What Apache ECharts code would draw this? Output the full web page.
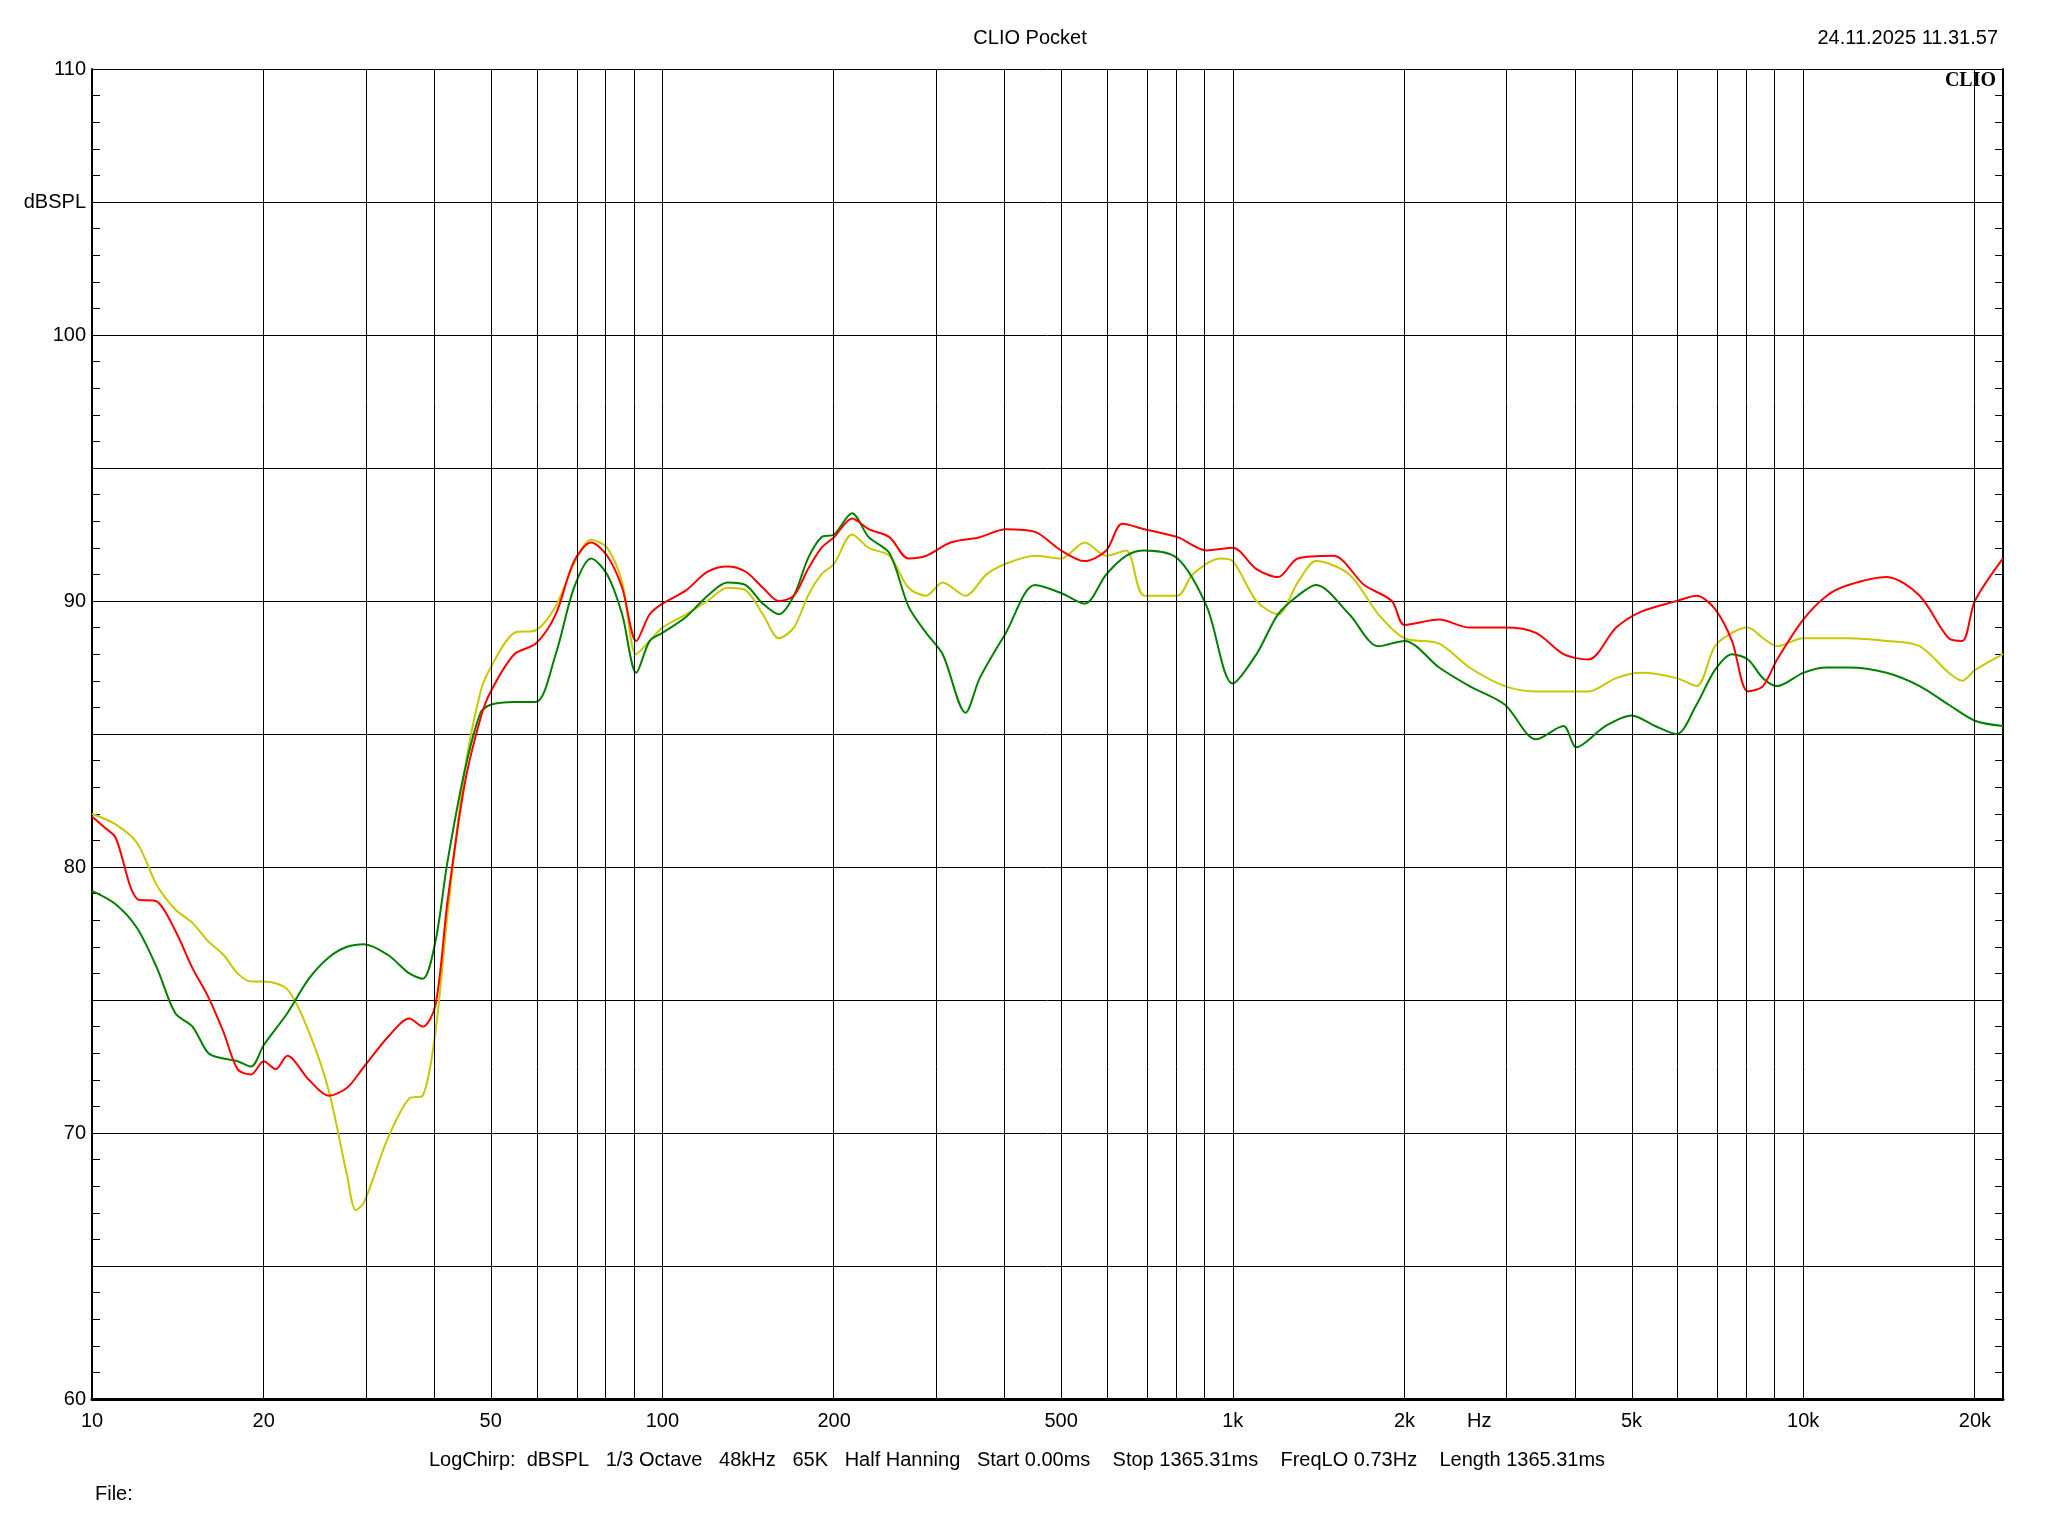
<!DOCTYPE html>
<html lang="en" style="height: 100%">
<head>
<meta charset="UTF-8">
<title>CLIO Pocket</title>
<script src="https://cdn.jsdelivr.net/npm/echarts@6/dist/echarts.min.js"></script>
</head>
<body style="height: 100%; margin: 0; background: #fff">
<div id="container" style="width: 2048px; height: 1536px"></div>
<script>
// frequency (Hz) / level (dBSPL) pairs
var redData = [[10,81.9],[10.5,81.5],[11,81.1],[12,78.8],[13,78.7],[14,77.6],[15,76.2],[16,75.1],[17,73.8],[18,72.4],[19,72.2],[20,72.7],[21,72.4],[22,72.9],[24,72.0],[26,71.4],[28,71.7],[30,72.5],[33,73.6],[36,74.3],[38,74.0],[40,74.8],[42,78.7],[45,83.1],[48,85.6],[50,86.6],[55,88.0],[60,88.4],[65,89.5],[70,91.5],[75,92.2],[80,91.7],[85,90.5],[90,88.5],[95,89.5],[100,89.9],[110,90.4],[120,91.1],[130,91.3],[140,91.1],[150,90.5],[160,90.0],[170,90.2],[180,91.2],[190,92.0],[200,92.4],[215,93.1],[230,92.7],[250,92.4],[270,91.6],[290,91.7],[320,92.2],[360,92.4],[400,92.7],[450,92.6],[500,91.9],[550,91.5],[600,91.9],[640,92.9],[700,92.7],[800,92.4],[900,91.9],[1000,92.0],[1100,91.2],[1200,90.9],[1300,91.6],[1500,91.7],[1700,90.6],[1900,90.0],[2000,89.1],[2300,89.3],[2600,89.0],[3000,89.0],[3400,88.8],[3800,88.0],[4200,87.8],[4700,89.0],[5200,89.6],[6000,90.0],[6500,90.2],[7000,89.7],[7500,88.5],[8000,86.6],[8500,86.8],[9000,87.8],[10000,89.3],[11000,90.2],[12000,90.6],[14000,90.9],[16000,90.2],[18000,88.6],[19000,88.5],[20000,90.0],[22400,91.6]];
var greenData = [[10,79.1],[11,78.6],[12,77.7],[13,76.2],[14,74.5],[15,74.0],[16,73.0],[17,72.8],[18,72.7],[19,72.5],[20,73.3],[22,74.5],[24,75.8],[26,76.6],[28,77.0],[30,77.1],[33,76.7],[36,76.0],[38,75.8],[40,77.2],[42,80.2],[45,83.6],[48,85.8],[50,86.1],[55,86.2],[60,86.2],[65,88.0],[70,90.5],[75,91.6],[80,91.0],[85,89.5],[90,87.3],[95,88.5],[100,88.8],[110,89.4],[120,90.2],[130,90.7],[140,90.6],[150,89.9],[160,89.5],[170,90.2],[180,91.6],[190,92.4],[200,92.5],[215,93.3],[230,92.4],[250,91.8],[270,89.8],[290,88.8],[310,88.0],[340,85.8],[360,87.1],[400,88.8],[450,90.6],[500,90.3],[550,89.9],[600,91.0],[650,91.7],[700,91.9],[800,91.6],[900,89.8],[1000,86.9],[1100,88.0],[1200,89.5],[1300,90.2],[1400,90.6],[1600,89.5],[1800,88.3],[2000,88.5],[2300,87.5],[2600,86.8],[3000,86.1],[3400,84.8],[3800,85.3],[4000,84.5],[4500,85.3],[5000,85.7],[5500,85.3],[6000,85.0],[6500,86.1],[7000,87.4],[7500,88.0],[8000,87.8],[8500,87.1],[9000,86.8],[10000,87.3],[11000,87.5],[12000,87.5],[14000,87.3],[16000,86.8],[18000,86.1],[20000,85.5],[22400,85.3]];
var yellowData = [[10,82.0],[11,81.6],[12,80.9],[13,79.3],[14,78.4],[15,77.9],[16,77.2],[17,76.7],[18,76.0],[19,75.7],[20,75.7],[22,75.4],[24,73.8],[26,71.6],[28,68.4],[29,67.1],[30,67.4],[33,69.8],[36,71.3],[38,71.4],[40,73.8],[42,78.2],[45,83.6],[48,86.6],[50,87.5],[55,88.8],[60,88.9],[65,89.8],[70,91.4],[75,92.3],[80,92.0],[85,90.7],[90,88.0],[95,88.5],[100,89.0],[110,89.5],[120,90.0],[130,90.5],[140,90.4],[150,89.5],[160,88.6],[170,89.0],[180,90.2],[190,91.0],[200,91.4],[215,92.5],[230,92.0],[250,91.7],[270,90.5],[290,90.2],[310,90.7],[340,90.2],[370,91.0],[400,91.4],[450,91.7],[500,91.6],[550,92.2],[600,91.7],[650,91.9],[700,90.2],[800,90.2],[850,91.0],[950,91.6],[1000,91.5],[1100,90.0],[1200,89.5],[1300,90.7],[1400,91.5],[1600,91.0],[1800,89.5],[2000,88.6],[2300,88.4],[2600,87.5],[3000,86.8],[3400,86.6],[3800,86.6],[4200,86.6],[4700,87.1],[5200,87.3],[6000,87.1],[6500,86.8],[7000,88.3],[7500,88.8],[8000,89.0],[8500,88.6],[9000,88.3],[10000,88.6],[12000,88.6],[14000,88.5],[16000,88.3],[18000,87.3],[19000,87.0],[20000,87.4],[22400,88.0]];

var gridFreqs = [20,30,40,50,60,70,80,90,100,200,300,400,500,600,700,800,900,1000,2000,3000,4000,5000,6000,7000,8000,9000,10000,20000];
var labelFreqs = [10,20,50,100,200,500,1000,2000,5000,10000,20000];
var labelText = ['10','20','50','100','200','500','1k','2k','5k','10k','20k'];
var fMin = 10, fMax = 22400;

function lg(d) { return d.map(function (p) { return [Math.log10(p[0]), p[1]]; }); }

var chart = echarts.init(document.getElementById('container'));
var font = 'Arial, "Liberation Sans", sans-serif';

chart.setOption({
    animation: false,
    backgroundColor: '#fff',
    grid: { left: 92, right: 45, top: 69, bottom: 137 },
    title: [{
        text: 'CLIO Pocket', left: 1025, top: 23, textAlign: 'center',
        textStyle: { fontSize: 20, fontWeight: 'normal', fontFamily: font, color: '#000' }
    }, {
        text: '24.11.2025 11.31.57', right: 45, top: 23,
        textStyle: { fontSize: 20, fontWeight: 'normal', fontFamily: font, color: '#000' }
    }, {
        text: 'LogChirp:  dBSPL   1/3 Octave   48kHz   65K   Half Hanning   Start 0.00ms    Stop 1365.31ms    FreqLO 0.73Hz    Length 1365.31ms',
        left: 1012, top: 1445, textAlign: 'center',
        textStyle: { fontSize: 20, fontWeight: 'normal', fontFamily: font, color: '#000' }
    }, {
        text: 'File:', left: 90, top: 1479,
        textStyle: { fontSize: 20, fontWeight: 'normal', fontFamily: font, color: '#000' }
    }, {
        text: 'CLIO', right: 47, top: 66,
        textStyle: { fontSize: 20, fontWeight: 'bold', fontFamily: '"Liberation Serif", serif', color: '#000' }
    }],
    graphic: [{
        type: 'text', left: 1467, top: 1411,
        style: { text: 'Hz', fontSize: 20, fontFamily: font, fill: '#000' }
    }],
    xAxis: {
        type: 'value', min: Math.log10(fMin), max: Math.log10(fMax),
        axisLine: { lineStyle: { color: '#000', width: 3 } },
        splitLine: { show: false },
        axisTick: { show: false },
        axisLabel: {
            customValues: labelFreqs.map(function (f) { return Math.log10(f); }),
            formatter: function (v) {
                var i = labelFreqs.findIndex(function (f) { return Math.abs(Math.log10(f) - v) < 1e-6; });
                return i >= 0 ? labelText[i] : '';
            },
            fontSize: 20, fontFamily: font, color: '#000', margin: 12
        }
    },
    yAxis: [{
        type: 'value', min: 60, max: 110, interval: 5,
        axisLine: { show: true, lineStyle: { color: '#000', width: 2 } },
        axisTick: { show: true, inside: true, length: 8, lineStyle: { color: '#000' } },
        minorTick: { show: true, splitNumber: 5, length: 8, lineStyle: { color: '#000' } },
        splitLine: { lineStyle: { color: '#000', width: 1 } },
        axisLabel: {
            formatter: function (v) { return v === 105 ? 'dBSPL' : (v % 10 === 0 ? String(v) : ''); },
            fontSize: 20, fontFamily: font, color: '#000', margin: 6
        }
    }, {
        type: 'value', min: 60, max: 110, interval: 5, position: 'right',
        axisLine: { show: true, lineStyle: { color: '#000', width: 2 } },
        axisTick: { show: true, inside: true, length: 8, lineStyle: { color: '#000' } },
        minorTick: { show: true, splitNumber: 5, length: 8, lineStyle: { color: '#000' } },
        splitLine: { show: false },
        axisLabel: { show: false }
    }],
    series: [{
        type: 'line', data: [], silent: true,
        markLine: {
            symbol: 'none', silent: true, label: { show: false },
            lineStyle: { color: '#000', width: 1, type: 'solid' },
            data: gridFreqs.map(function (f) { return { xAxis: Math.log10(f) }; })
        }
    }, {
        type: 'line', data: lg(yellowData), showSymbol: false, smooth: 0.3,
        lineStyle: { color: '#c8c800', width: 2 }
    }, {
        type: 'line', data: lg(greenData), showSymbol: false, smooth: 0.3,
        lineStyle: { color: '#008000', width: 2 }
    }, {
        type: 'line', data: lg(redData), showSymbol: false, smooth: 0.3,
        lineStyle: { color: '#ff0000', width: 2 }
    }]
});
</script>
</body>
</html>
